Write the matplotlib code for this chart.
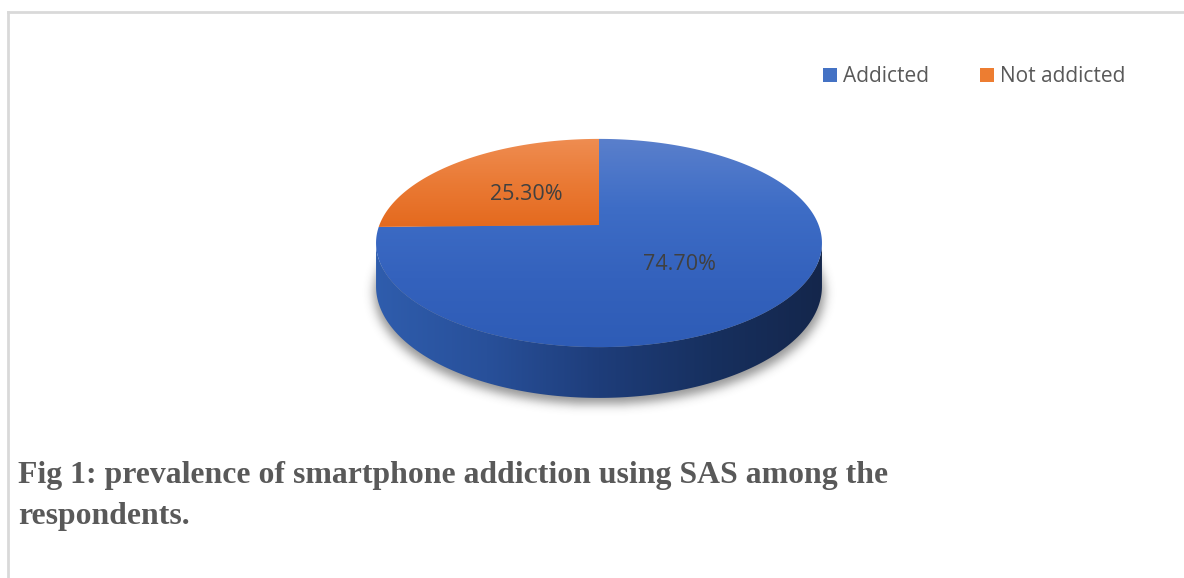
import numpy as np
import matplotlib
matplotlib.use("Agg")
import matplotlib.pyplot as plt
from matplotlib.patches import Polygon, Patch
from matplotlib.colors import LinearSegmentedColormap
from matplotlib.path import Path

# ---- data ----
categories = ["Addicted", "Not addicted"]
values = [74.70, 25.30]
labels = ["74.70%", "25.30%"]
caption_lines = ["Fig 1: prevalence of smartphone addiction using SAS among the",
                 "respondents."]

W, H_ = 1184, 578
fig = plt.figure(figsize=(W / 100, H_ / 100), dpi=100)
ax = fig.add_axes([0, 0, 1, 1])
ax.set_xlim(0, W)
ax.set_ylim(H_, 0)
ax.axis("off")

# frame lines
ax.plot([7.5, 7.5], [12, 578], color="#d9d9d9", lw=2, zorder=1)
ax.plot([7.5, 1184], [12, 12], color="#d9d9d9", lw=2, zorder=1)

# ---- 3D pie geometry ----
cx, cy = 599.0, 225.0
rx, ry, k, depth = 219.6, 101.0, 0.173, 42.0


def proj(t, h):
    d = np.sin(t)
    s = 1.0 / (1.0 + k * d)
    X = cx + rx * np.cos(t) * s
    Y = cy - ry * d * s + depth * h * s
    return X, Y


def grad_fill(verts, colors, vertical=True, z=3):
    verts = np.asarray(verts)
    poly = Polygon(verts, closed=True, facecolor="none", edgecolor="none")
    ax.add_patch(poly)
    x0, x1 = verts[:, 0].min() - 2, verts[:, 0].max() + 2
    y0, y1 = verts[:, 1].min() - 2, verts[:, 1].max() + 2
    cmap = LinearSegmentedColormap.from_list("g", colors)
    g = np.linspace(0, 1, 256)
    arr = g[:, None] if vertical else g[None, :]
    im = ax.imshow(arr, cmap=cmap, extent=(x0, x1, y1, y0), origin="upper",
                   aspect="auto", zorder=z, interpolation="bilinear")
    im.set_clip_path(poly)


# start at 12 o'clock, go clockwise
fracs = np.array(values) / sum(values)
start = np.pi / 2
angles = []
for f in fracs:
    end = start - 2 * np.pi * f
    angles.append((start, end))
    start = end

# shadow (blurred) under the pie
tt = np.linspace(0, 2 * np.pi, 400)
sx, sy = proj(tt, 1.0)
sy = sy + 6
sx = cx + (sx - cx) * 1.01
shadow_path = Path(np.column_stack([sx, sy]))
gx0, gx1, gy0, gy1 = 330, 870, 120, 440
GX, GY = np.meshgrid(np.arange(gx0, gx1), np.arange(gy0, gy1))
mask = shadow_path.contains_points(np.column_stack([GX.ravel(), GY.ravel()])).reshape(GX.shape).astype(float)
sig = 5.0
kx = np.arange(-15, 16)
ker = np.exp(-kx ** 2 / (2 * sig ** 2))
ker /= ker.sum()
bl = np.apply_along_axis(lambda r: np.convolve(r, ker, mode="same"), 1, mask)
bl = np.apply_along_axis(lambda c: np.convolve(c, ker, mode="same"), 0, bl)
rgba = np.zeros(bl.shape + (4,))
rgba[..., :3] = 0.25
rgba[..., 3] = bl * 0.55
ax.imshow(rgba, extent=(gx0, gx1, gy1, gy0), origin="upper", aspect="auto", zorder=2)

# side wall (front)
t1 = np.pi + np.arcsin(k)
t2 = 2 * np.pi - np.arcsin(k)
ts = np.linspace(t1, t2, 200)
tx, ty = proj(ts, 0.0)
bx, by = proj(ts[::-1], 1.0)
side = np.column_stack([np.concatenate([tx, bx]), np.concatenate([ty, by])])
grad_fill(side, ["#2F5DAD", "#28509A", "#1E3D7A", "#17305F", "#14264B"], vertical=False, z=3)

# top faces
top_colors = {
    "Addicted": ["#5B80CC", "#3E6DC6", "#3462BD", "#2E5CB6"],
    "Not addicted": ["#EF8E53", "#EA7A35", "#E4691D"],
}
for cat, (a0, a1) in zip(categories, angles):
    ts = np.linspace(a0, a1, 300)
    ex, ey = proj(ts, 0.0)
    verts = np.column_stack([np.concatenate([[cx], ex]), np.concatenate([[cy], ey])])
    grad_fill(verts, top_colors[cat], vertical=True, z=4)

# data labels
label_pos = {"74.70%": (679, 265), "25.30%": (526, 195)}
for lab in labels:
    x, y = label_pos[lab]
    ax.text(x, y, lab, ha="center", va="center", fontsize=15.5, color="#404040",
            family="Open Sans", zorder=6)

# legend
handles = [Patch(facecolor="#4472C4", edgecolor="none"),
           Patch(facecolor="#ED7D31", edgecolor="none")]
leg = ax.legend(handles, categories, loc="center left", bbox_to_anchor=(823 / W, 1 - 77 / H_),
                ncol=2, frameon=False, prop={"family": "Open Sans", "size": 15},
                handlelength=0.67, handleheight=0.67, handletextpad=0.3,
                columnspacing=2.45, borderpad=0, borderaxespad=0)
for t in leg.get_texts():
    t.set_color("#595959")

# caption
for i, line in enumerate(caption_lines):
    ax.text(18, 483 + 41 * i, line, ha="left", va="baseline", fontsize=22.9, fontweight="bold",
            family="Liberation Serif", color="#595959")

fig.savefig("out.png", dpi=100)
